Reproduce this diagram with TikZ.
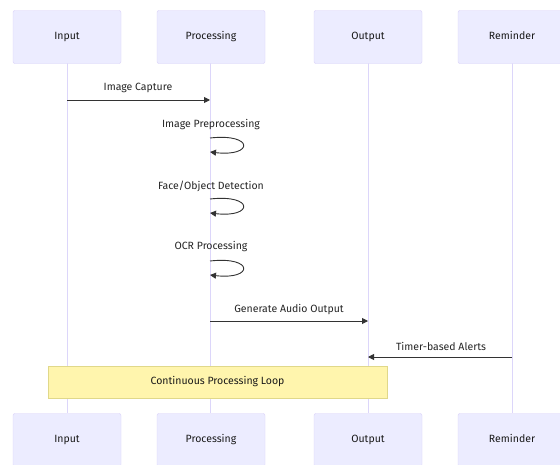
\documentclass[tikz,border=0pt]{standalone}
\usepackage{fontspec}
\setmainfont{Fira Sans}
\usetikzlibrary{arrows.meta}
\definecolor{actfill}{HTML}{ECECFF}
\definecolor{actline}{HTML}{D8D0F8}
\definecolor{lifeline}{HTML}{DCD6FA}
\definecolor{msg}{HTML}{333333}
\definecolor{notefill}{HTML}{FFF5AD}
\definecolor{noteline}{HTML}{E0D88A}
\begin{document}
\begin{tikzpicture}[x=1pt,y=-1pt,
  actor/.style={draw=actline,fill=actfill,rounded corners=2pt,minimum width=108pt,minimum height=53pt,inner sep=0pt,text height=7.5pt,text depth=2.5pt,font=\fontsize{10.5}{12}\selectfont,text=black!90},
  life/.style={draw=lifeline,line width=1pt},
  msgline/.style={draw=msg,line width=0.9pt,-{Triangle[length=6pt,width=6pt]}},
  lbl/.style={font=\fontsize{10.5}{12}\selectfont,text=black!85,inner sep=0pt}]
\useasboundingbox (0,0) rectangle (560,464);
\fill[white] (0,0) rectangle (560,464);
% lifelines coordinates
\coordinate (tA) at (67,63); \coordinate (bA) at (67,413);
\coordinate (tB) at (210,63); \coordinate (bB) at (210,413);
\coordinate (tC) at (368,63); \coordinate (bC) at (368,413);
\coordinate (tD) at (512,63); \coordinate (bD) at (512,413);
\draw[life] (tA) -- (bA);
\draw[life] (tB) -- (bB);
\draw[life] (tC) -- (bC);
\draw[life] (tD) -- (bD);
% actors top
\node[actor] (a1) at (67,37) {Input};
\node[actor] (b1) at (211,37) {Processing};
\node[actor] (c1) at (368,37) {Output};
\node[actor] (d1) at (512,37) {Reminder};
% actors bottom
\node[actor] (a2) at (67,440) {Input};
\node[actor] (b2) at (211,440) {Processing};
\node[actor] (c2) at (368,440) {Output};
\node[actor] (d2) at (512,440) {Reminder};
% messages
\coordinate (m1a) at (67,100); \coordinate (m1b) at (210,100);
\draw[msgline] (m1a) -- (m1b);
\node[lbl] (l1) at (138,88) {Image Capture};

\node[lbl] (l2) at (211,125) {Image Preprocessing};
\coordinate (s2a) at (210,138); \coordinate (s2b) at (210,152);
\draw[msgline] (s2a) .. controls (254,133) and (254,157) .. (s2b);

\node[lbl] (l3) at (211,186) {Face/Object Detection};
\coordinate (s3a) at (210,199); \coordinate (s3b) at (210,213);
\draw[msgline] (s3a) .. controls (254,194) and (254,218) .. (s3b);

\node[lbl] (l4) at (211,247) {OCR Processing};
\coordinate (s4a) at (210,261); \coordinate (s4b) at (210,275);
\draw[msgline] (s4a) .. controls (254,256) and (254,280) .. (s4b);

\node[lbl] (l5) at (289,310) {Generate Audio Output};
\coordinate (m5a) at (210,321); \coordinate (m5b) at (368,321);
\draw[msgline] (m5a) -- (m5b);

\node[lbl] (l6) at (441,346) {Timer-based Alerts};
\coordinate (m6a) at (512,357); \coordinate (m6b) at (368,357);
\draw[msgline] (m6a) -- (m6b);

% note
\node[draw=noteline,fill=notefill,minimum width=339pt,minimum height=32pt,inner sep=0pt,font=\fontsize{10.5}{12}\selectfont,text=black!90] (note) at (217.5,382) {Continuous Processing Loop};
\end{tikzpicture}
\end{document}
